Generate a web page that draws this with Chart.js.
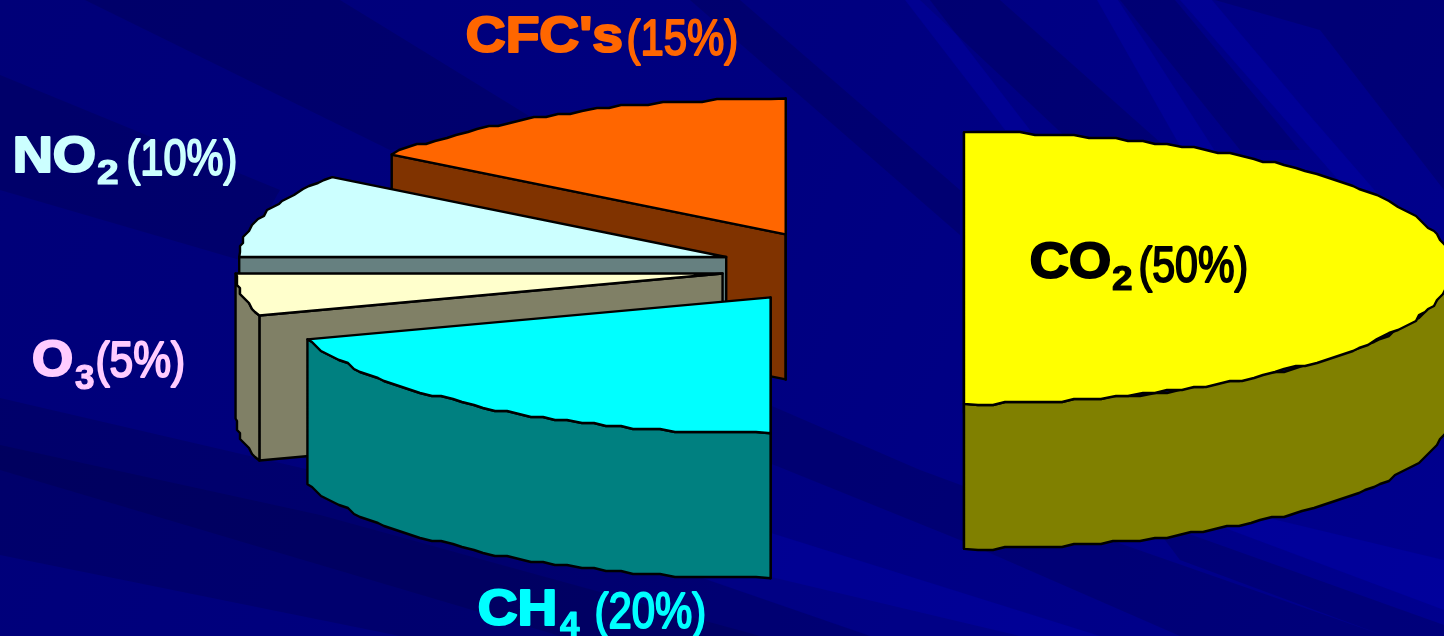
<!DOCTYPE html>
<html>
<head>
<meta charset="utf-8">
<title>Greenhouse gases</title>
<script src="https://cdn.jsdelivr.net/npm/chart.js@4"></script>
<style>
  html, body { margin: 0; padding: 0; background: #000080; overflow: hidden; }
  canvas { display: block; }
</style>
</head>
<body>
<canvas id="pie" width="1444" height="636"></canvas>
<script>
// Share of each gas, clockwise from twelve o'clock.
const gases = ['CO2', 'CH4', 'O3', 'NO2', "CFC's"];
const shares = [50, 20, 5, 10, 15];
const formulae = ['CO', 'CH', 'O', 'NO', "CFC's"];
const subscripts = ['2', '4', '3', '2', ''];

const topColors = ['#FFFF00', '#00FFFF', '#FFFFCC', '#CCFFFF', '#FF6600'];
const sideColors = ['#808000', '#008080', '#808066', '#668080', '#803300'];
const labelColors = ['#000000', '#00FFFF', '#FFCCFF', '#CCFFFF', '#FF6600'];
const explode = [117, 130, 126, 127, 135];

// Horizontal ink extents and baselines of each label's three runs.
const mainRuns = [[1032, 1109, 278], [480, 554, 625], [34, 71, 376], [16, 94, 172], [468, 621, 52]];
const subRuns = [[1113, 1132, 290], [560, 580, 636], [75, 94, 389], [98, 118, 184], null];
const pctRuns = [[1141, 1246, 282], [597, 704, 628], [98, 183, 377], [129, 235, 175], [629, 736, 55]];

// Faint light and dark streaks of the backdrop.
const DARK = 'rgba(0,0,50,0.20)';
const LIGHT = 'rgba(10,10,255,0.13)';
const streaks = [
  [DARK, [[85, 0], [340, 0], [560, 135], [390, 150]]],
  [DARK, [[0, 75], [280, 190], [240, 260], [0, 190]]],
  [DARK, [[0, 398], [771, 577], [1020, 636], [560, 636], [0, 470]]],
  [DARK, [[0, 445], [320, 515], [760, 636], [400, 636], [0, 555]]],
  [DARK, [[700, 375], [920, 470], [1110, 540], [1385, 636], [1180, 636], [960, 540], [700, 435]]],
  [DARK, [[1150, 520], [1444, 625], [1444, 636], [1385, 636], [1180, 560]]],
  [DARK, [[690, 0], [740, 0], [960, 190], [960, 235]]],
  [DARK, [[920, 0], [1000, 0], [1180, 160], [1090, 160]]],
  [DARK, [[1120, 0], [1175, 0], [1300, 150], [1240, 150]]],
  [DARK, [[1215, 0], [1444, 0], [1444, 190], [1320, 30]]],
  [LIGHT, [[1097, 0], [1118, 0], [1240, 190], [1205, 190]]],
  [LIGHT, [[1180, 0], [1212, 0], [1305, 110], [1444, 270], [1444, 300]]],
  [LIGHT, [[905, 0], [930, 0], [1030, 130], [1005, 130]]],
  [LIGHT, [[650, 495], [1100, 636], [870, 636], [650, 560]]],
  [LIGHT, [[1110, 480], [1444, 560], [1444, 610], [1230, 530]]]
];

// Paints the backdrop before anything else.
const backdrop = {
  id: 'backdrop',
  beforeDraw(chart) {
    const { ctx, width, height } = chart;
    const g = ctx.createLinearGradient(0, 0, width, height);
    g.addColorStop(0, '#000078');
    g.addColorStop(0.5, '#000080');
    g.addColorStop(1, '#00008E');
    ctx.save();
    ctx.fillStyle = g;
    ctx.fillRect(0, 0, width, height);
    for (const [color, pts] of streaks) {
      ctx.fillStyle = color;
      ctx.beginPath();
      pts.forEach(([x, y], i) => (i ? ctx.lineTo(x, y) : ctx.moveTo(x, y)));
      ctx.closePath();
      ctx.fill();
    }
    ctx.restore();
  }
};

// Draws the pie's arc elements as tilted, extruded, exploded wedges.
const tiltedPie = {
  id: 'tiltedPie',
  beforeDatasetDraw(chart, args, opts) {
    const { ctx } = chart;
    const { tilt, depth, grid, lineWidth } = opts;
    const arcs = args.meta.data;

    // Rim vertices between two angles; snapping gives the coarse outline.
    const rim = (cx, cy, r, a0, a1) => {
      const step = 14 / r;
      const n = Math.max(1, Math.round((a1 - a0) / step));
      const pts = [];
      for (let i = 0; i <= n; i++) {
        const a = a0 + (a1 - a0) * i / n;
        let x = cx + r * Math.cos(a);
        let y = cy + r * tilt * Math.sin(a);
        if (i > 0 && i < n) {
          x = Math.round(x / grid) * grid;
          y = Math.round(y / grid) * grid;
        }
        pts.push([x, y]);
      }
      return pts;
    };
    const face = (pts, fill) => {
      ctx.beginPath();
      pts.forEach(([x, y], i) => (i ? ctx.lineTo(x, y) : ctx.moveTo(x, y)));
      ctx.closePath();
      ctx.fillStyle = fill;
      ctx.fill();
      ctx.stroke();
    };

    ctx.save();
    ctx.strokeStyle = '#000';
    ctx.lineWidth = lineWidth;
    ctx.lineJoin = 'round';

    // Back to front: the last arcs in the data sit furthest away.
    for (let i = arcs.length - 1; i >= 0; i--) {
      const el = arcs[i];
      const { x, y, startAngle: a0, endAngle: a1, outerRadius: r } =
        el.getProps(['x', 'y', 'startAngle', 'endAngle', 'outerRadius'], true);
      const mid = (a0 + a1) / 2;
      const d = el.options.offset;
      const ax = x + d * Math.cos(mid);
      const ay = y + d * tilt * Math.sin(mid);
      const side = sideColors[i];
      const radial = (a) => {
        const bx = ax + r * Math.cos(a);
        const by = ay + r * tilt * Math.sin(a);
        face([[ax, ay], [bx, by], [bx, by + depth], [ax, ay + depth]], side);
      };

      if (Math.cos(a0) < 1e-6) radial(a0);
      if (Math.cos(a1) > -1e-6) radial(a1);

      // The curved wall shows only along the near half of the ellipse.
      const v0 = Math.max(a0, 0);
      const v1 = Math.min(a1, Math.PI);
      if (v1 > v0) {
        const wall = rim(ax, ay, r, v0, v1);
        const lower = wall.map(([px, py]) => [px, py + depth]).reverse();
        face(wall.concat(lower), side);
      }

      face([[ax, ay]].concat(rim(ax, ay, r, a0, a1)), el.options.backgroundColor);
    }
    ctx.restore();
    return false;
  },
  afterDatasetsDraw(chart) {
    const { ctx } = chart;
    const fitted = (text, font, color, run, outline) => {
      const [x0, x1, base] = run;
      ctx.save();
      ctx.font = font;
      ctx.textBaseline = 'alphabetic';
      const m = ctx.measureText(text);
      const ink = m.actualBoundingBoxLeft + m.actualBoundingBoxRight;
      const sx = (x1 - x0) / ink;
      ctx.translate(x0 + m.actualBoundingBoxLeft * sx, base);
      ctx.scale(sx, 1);
      ctx.fillStyle = color;
      ctx.strokeStyle = color;
      ctx.lineWidth = outline;
      ctx.lineJoin = 'round';
      ctx.fillText(text, 0, 0);
      ctx.strokeText(text, 0, 0);
      ctx.restore();
    };
    const SANS = '"Liberation Sans", Arial, sans-serif';
    gases.forEach((gas, i) => {
      fitted(formulae[i], `bold 50px ${SANS}`, labelColors[i], mainRuns[i], 2.2);
      if (subRuns[i]) fitted(subscripts[i], `bold 35px ${SANS}`, labelColors[i], subRuns[i], 1.2);
      fitted(`(${shares[i]}%)`, `50px ${SANS}`, labelColors[i], pctRuns[i], 2);
    });
  }
};

new Chart(document.getElementById('pie'), {
  type: 'pie',
  data: {
    labels: gases,
    datasets: [{
      data: shares,
      backgroundColor: topColors,
      borderColor: '#000',
      offset: explode
    }]
  },
  plugins: [backdrop, tiltedPie],
  options: {
    responsive: false,
    animation: false,
    radius: 487,
    layout: { padding: { left: 250, bottom: 100 } },
    events: [],
    plugins: {
      legend: { display: false },
      tooltip: { enabled: false },
      tiltedPie: { tilt: 0.279, depth: 145, grid: 3, lineWidth: 2.4 }
    }
  }
});
</script>
</body>
</html>
